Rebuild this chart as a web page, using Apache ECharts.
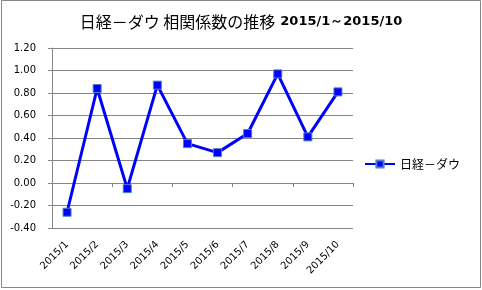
<!DOCTYPE html>
<html><head><meta charset="utf-8">
<script src="https://cdn.jsdelivr.net/npm/echarts@6/dist/echarts.min.js"></script>
<style>html,body{margin:0;padding:0;background:#fff}#c{width:482px;height:290px}</style>
</head><body><div id="c"></div>
<script>
var categories = ['2015/1','2015/2','2015/3','2015/4','2015/5','2015/6','2015/7','2015/8','2015/9','2015/10'];
var values = [-0.26, 0.84, -0.05, 0.87, 0.35, 0.27, 0.44, 0.97, 0.41, 0.81];
var seriesName = '日経－ダウ';
var chart = echarts.init(document.getElementById('c'));
var gray = '#868686';
chart.setOption({
  animation: false,
  backgroundColor: '#fff',
  graphic: [{type:'rect', shape:{x:1.5,y:0.5,width:479,height:287}, style:{fill:'none', stroke:gray, lineWidth:1}, silent:true}],
  title: {
    text: '{a|日経－ダウ 相関係数の推移} {b|2015/1～2015/10}',
    left: 'center', top: 8,
    textStyle: {
      rich: {
        a: {fontFamily:'Noto Sans CJK JP', fontSize:16, color:'#000', fontWeight:'normal'},
        b: {fontFamily:'DejaVu Sans', fontSize:13, color:'#000', fontWeight:'bold'}
      }
    }
  },
  legend: {
    right: 17, top: 153, orient: 'vertical',
    itemWidth: 30, itemHeight: 9,
    textStyle: {fontFamily:'Noto Sans CJK JP', fontSize:12, color:'#000'},
    data: [seriesName]
  },
  grid: {left: 52, right: 129, top: 48, bottom: 62},
  xAxis: [{
    type: 'category', data: categories, position: 'bottom',
    axisLine: {show:false, onZero:false}, axisTick: {show:false},
    axisLabel: {rotate: 45, margin: 15, fontFamily:'DejaVu Sans', fontSize:10, color:'#000', interval:0}
  },{
    type: 'category', data: categories, position: 'bottom',
    axisLine: {show:true, onZero:true, lineStyle:{color:gray, width:1}},
    axisTick: {show:true, length:4, lineStyle:{color:gray}},
    axisLabel: {show:false}
  }],
  yAxis: {
    type: 'value', min: -0.4, max: 1.2, interval: 0.2,
    axisLine: {show:true, lineStyle:{color:gray}},
    axisTick: {show:true, length:4, lineStyle:{color:gray}},
    splitLine: {lineStyle:{color:gray, width:1}},
    axisLabel: {formatter: function(v){return v.toFixed(2);}, margin: 16, fontFamily:'DejaVu Sans', fontSize:10, color:'#000'}
  },
  series: [{
    name: seriesName, type: 'line', data: values, xAxisIndex: 0,
    symbol: 'rect', symbolSize: 8,
    lineStyle: {color:'#0000ff', width:3},
    itemStyle: {color:'#0000ff', borderColor:'#4f81bd', borderWidth:1}
  }]
});
</script></body></html>
